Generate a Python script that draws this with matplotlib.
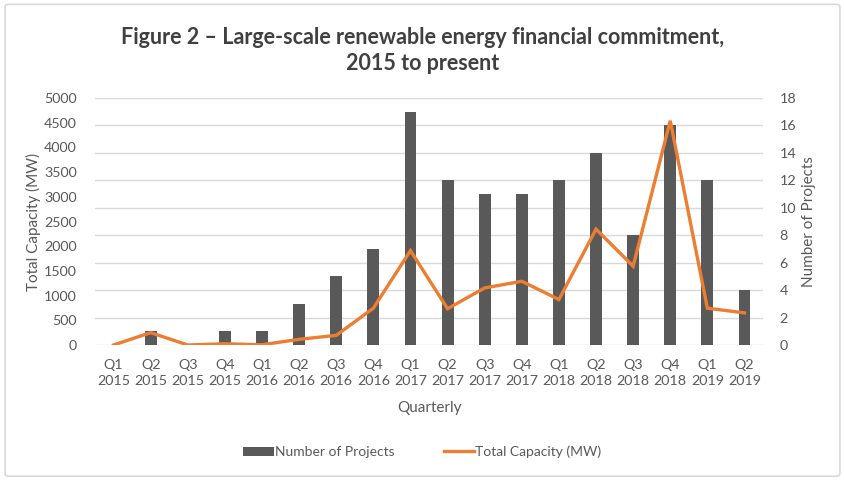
import matplotlib
matplotlib.use("Agg")
import matplotlib.pyplot as plt
import numpy as np
from matplotlib.patches import FancyBboxPatch

plt.rcParams['font.family'] = ['Lato', 'DejaVu Sans']

quarters = ["Q1\n2015", "Q2\n2015", "Q3\n2015", "Q4\n2015",
            "Q1\n2016", "Q2\n2016", "Q3\n2016", "Q4\n2016",
            "Q1\n2017", "Q2\n2017", "Q3\n2017", "Q4\n2017",
            "Q1\n2018", "Q2\n2018", "Q3\n2018", "Q4\n2018",
            "Q1\n2019", "Q2\n2019"]
num_projects = [0, 1, 0, 1, 1, 3, 5, 7, 17, 12, 11, 11, 12, 14, 8, 16, 12, 4]
capacity_mw = [0, 250, 0, 25, 5, 115, 195, 745, 1910, 735, 1155, 1290, 920, 2345, 1595, 4540, 745, 650]

grey = "#595959"
orange = "#ED7D31"

fig = plt.figure(figsize=(8.45, 4.84), dpi=100)
fig.patches.append(FancyBboxPatch((0.006, 0.016), 0.988, 0.975, boxstyle="round,pad=0,rounding_size=0.005",
                                  transform=fig.transFigure, facecolor="white",
                                  edgecolor="#D9D9D9", linewidth=1.2, zorder=-1))

ax2 = fig.add_axes([0.1124, 0.2872, 0.7906, 0.5103])  # bars, right axis
ax = ax2.twinx()
ax.yaxis.tick_left()
ax.yaxis.set_label_position("left")
ax2.yaxis.tick_right()
ax2.yaxis.set_label_position("right")

x = np.arange(len(quarters))
ax2.bar(x, num_projects, width=0.32, color=grey, zorder=2, label="Number of Projects")
ax.plot(x, capacity_mw, color=orange, linewidth=2.4, solid_joinstyle="miter", zorder=3,
        label="Total Capacity (MW)")

ax2.set_ylim(0, 18)
ax2.set_yticks(range(0, 19, 2))
ax2.grid(axis="y", color="#D9D9D9", linewidth=1, zorder=0)
ax2.set_axisbelow(True)
ax.set_ylim(0, 5000)
ax.set_yticks(range(0, 5001, 500))
ax.set_xlim(-0.5, len(quarters) - 0.5)
ax2.set_xticks(x)
ax2.set_xticklabels(quarters, linespacing=1.45)

for a in (ax, ax2):
    for s in a.spines.values():
        s.set_visible(False)
    a.tick_params(length=0, colors=grey, labelsize=10.3)
ax2.tick_params(axis="x", pad=10)
ax.tick_params(axis="y", pad=13)
ax2.tick_params(axis="y", pad=12)

ax.set_ylabel("Total Capacity (MW)", color=grey, fontsize=11, labelpad=2)
ax2.set_ylabel("Number of Projects", color=grey, fontsize=11, labelpad=4)
ax2.set_xlabel("Quarterly", color=grey, fontsize=11, labelpad=10)

fig.suptitle("Figure 2 \u2013 Large-scale renewable energy financial commitment,\n2015 to present",
             y=0.945, fontsize=15.5, fontweight="bold", color="#404040", linespacing=1.3)

handles = [ax2.containers[0], ax.get_lines()[0]]
fig.legend(handles, ["Number of Projects", "Total Capacity (MW)"], loc="center",
           bbox_to_anchor=(0.5, 0.066), ncol=2, frameon=False, fontsize=10,
           labelcolor=grey, handlelength=2.2, handletextpad=0.1, columnspacing=3.5)

fig.savefig("out.png", dpi=100)
